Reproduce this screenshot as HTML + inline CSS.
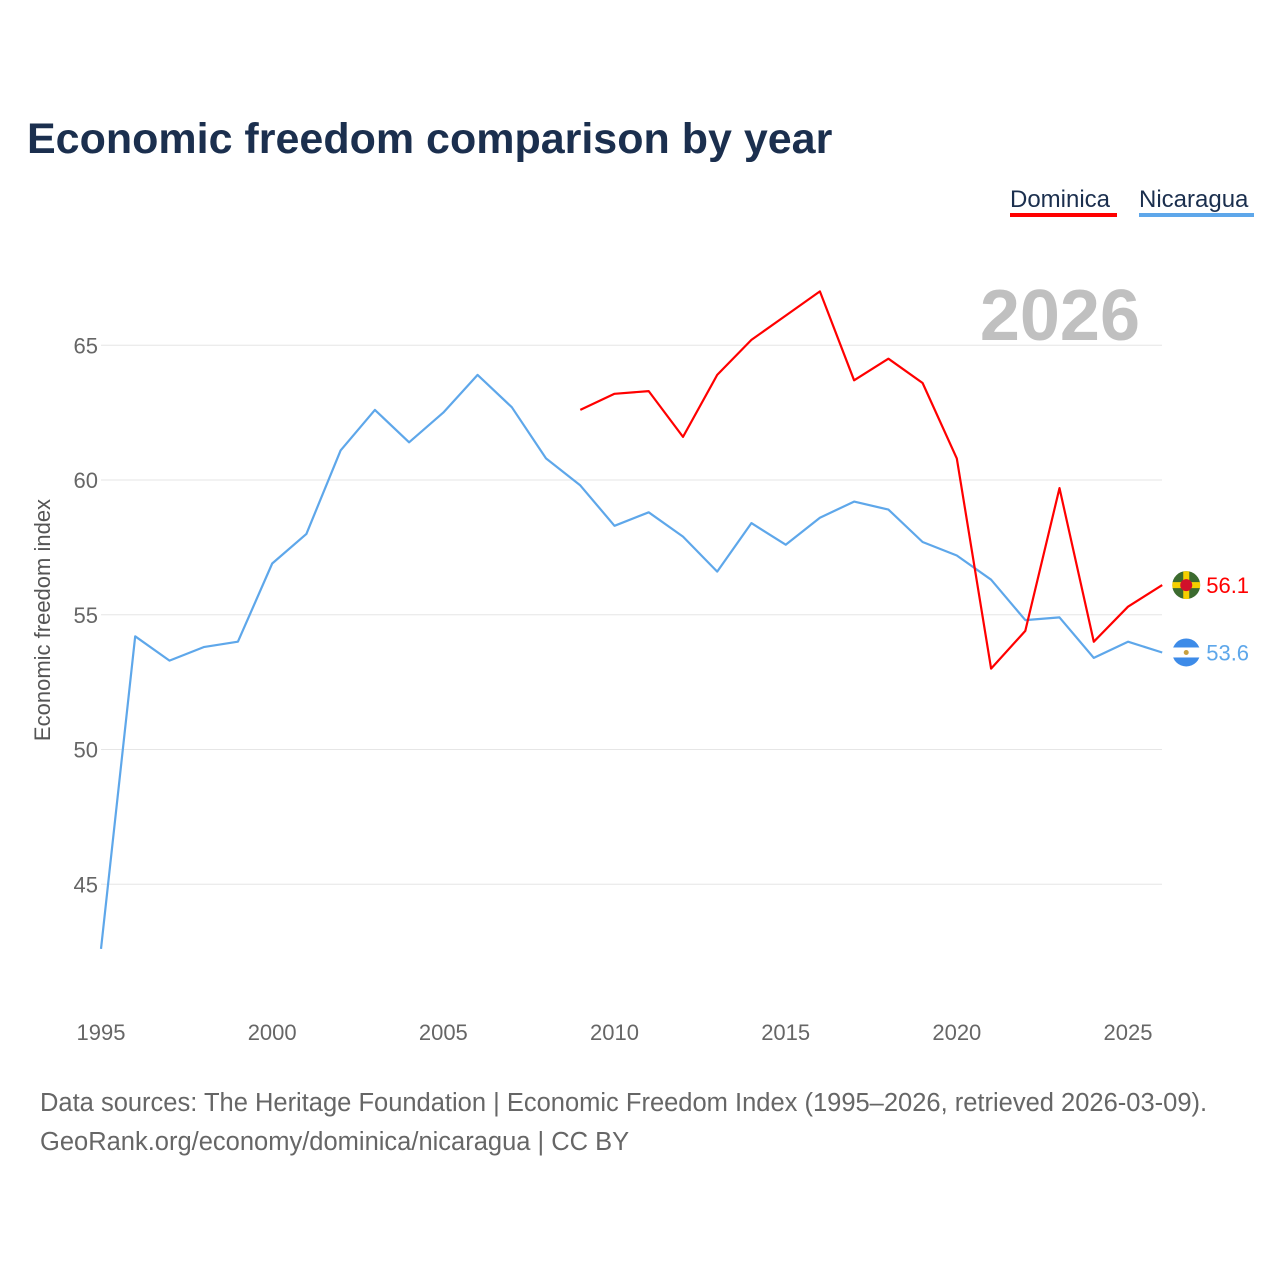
<!DOCTYPE html>
<html><head><meta charset="utf-8">
<style>
body{margin:0;background:#fff;font-family:"Liberation Sans",sans-serif;}
svg text{font-family:"Liberation Sans",sans-serif;}
</style></head>
<body>
<svg id="chart" width="1280" height="1280" viewBox="0 0 1280 1280">
<text x="27" y="153" font-size="43" font-weight="bold" fill="#1b2f4e">Economic freedom comparison by year</text>
<g>
<text x="1010" y="207" font-size="24" fill="#1b2f4e">Dominica</text>
<rect x="1010" y="213" width="107" height="4" fill="#ff0000"/>
<text x="1139" y="207" font-size="24" fill="#1b2f4e">Nicaragua</text>
<rect x="1139" y="213" width="115" height="4" fill="#5ea7ea"/>
</g>
<text x="1140" y="340" font-size="72" font-weight="bold" fill="#c0c0c0" text-anchor="end">2026</text>
<g id="grid"></g>
<g id="yticks"></g>
<g id="xticks"></g>
<text transform="translate(50,620) rotate(-90)" font-size="22" fill="#555" text-anchor="middle">Economic freedom index</text>
<g id="series"></g>
<text x="40" y="1111" font-size="25.5" fill="#666">Data sources: The Heritage Foundation | Economic Freedom Index (1995–2026, retrieved 2026-03-09).</text>
<text x="40" y="1150" font-size="25.5" fill="#666">GeoRank.org/economy/dominica/nicaragua | CC BY</text>
</svg>
<script>
const years=[1995,1996,1997,1998,1999,2000,2001,2002,2003,2004,2005,2006,2007,2008,2009,2010,2011,2012,2013,2014,2015,2016,2017,2018,2019,2020,2021,2022,2023,2024,2025,2026];
const nicaragua=[42.6,54.2,53.3,53.8,54.0,56.9,58.0,61.1,62.6,61.4,62.5,63.9,62.7,60.8,59.8,58.3,58.8,57.9,56.6,58.4,57.6,58.6,59.2,58.9,57.7,57.2,56.3,54.8,54.9,53.4,54.0,53.6];
const dominica=[null,null,null,null,null,null,null,null,null,null,null,null,null,null,62.6,63.2,63.3,61.6,63.9,65.2,66.1,67.0,63.7,64.5,63.6,60.8,53.0,54.4,59.7,54.0,55.3,56.1];
const yTicks=[45,50,55,60,65];
const xTicks=[1995,2000,2005,2010,2015,2020,2025];
const NS="http://www.w3.org/2000/svg";
const xs=y=>101+(y-1995)*(1027/30);
const ys=v=>480-(v-60)*26.95;
function mk(tag,attrs,parent){const e=document.createElementNS(NS,tag);for(const k in attrs)e.setAttribute(k,attrs[k]);parent.appendChild(e);return e;}
const grid=document.getElementById('grid'),yt=document.getElementById('yticks'),xt=document.getElementById('xticks'),ser=document.getElementById('series');
yTicks.forEach(v=>{
 const l=mk('line',{x1:101,x2:1162,y1:ys(v),y2:ys(v),stroke:'#e6e6e6','stroke-width':1},grid);
 
 
 const t=mk('text',{x:98,y:ys(v)+8,'font-size':22,fill:'#666','text-anchor':'end'},yt);t.textContent=v;
 
 
});
xTicks.forEach(y=>{
 const t=mk('text',{x:xs(y),y:1040,'font-size':22,fill:'#666','text-anchor':'middle'},xt);t.textContent=y;
 
 
});
const defs=mk('defs',{},ser);
function line(vals,color,name){
 let d='';let pen=false;
 vals.forEach((v,i)=>{if(v==null){pen=false;return;}d+=(pen?'L':'M')+xs(years[i]).toFixed(1)+','+ys(v).toFixed(1);pen=true;});
 const p=mk('path',{d:d,fill:'none',stroke:color,'stroke-width':2.2,'stroke-linejoin':'round'},ser);
 
 
 const last=vals[vals.length-1];const cx=xs(years[years.length-1])+24,cy=ys(last);
 const cp=mk('clipPath',{id:'clip-'+name},defs);mk('circle',{cx:cx,cy:cy,r:14},cp);
 const g=mk('g',{'clip-path':'url(#clip-'+name+')'},ser);
 
 
 if(name==='nicaragua'){mk('rect',{x:cx-14,y:cy-14,width:28,height:28,fill:'#fff'},g);mk('rect',{x:cx-14,y:cy-14,width:28,height:9,fill:'#3d8be8'},g);mk('rect',{x:cx-14,y:cy+5,width:28,height:9,fill:'#3d8be8'},g);mk('circle',{cx:cx,cy:cy,r:2.5,fill:'#c8a040'},g);}
 else{mk('rect',{x:cx-14,y:cy-14,width:28,height:28,fill:'#3c6b2f'},g);mk('rect',{x:cx-14,y:cy-3,width:28,height:6,fill:'#f5d000'},g);mk('rect',{x:cx-3,y:cy-14,width:6,height:28,fill:'#f5d000'},g);mk('circle',{cx:cx,cy:cy,r:6,fill:'#d1102a'},g);}
 const t=mk('text',{x:cx+20,y:cy+8,'font-size':22,fill:color},ser);t.textContent=last.toFixed(1);
 
 
}
line(nicaragua,'#5ea7ea','nicaragua');
line(dominica,'#ff0000','dominica');
</script>
</body></html>
